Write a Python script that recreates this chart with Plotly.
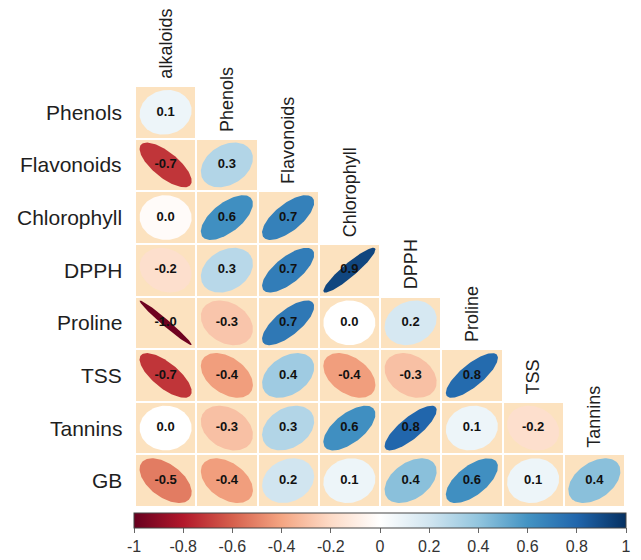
import numpy as np
import plotly.graph_objects as go

# ---------------- data ----------------
row_labels = ["Phenols", "Flavonoids", "Chlorophyll", "DPPH", "Proline", "TSS", "Tannins", "GB"]
col_labels = ["alkaloids", "Phenols", "Flavonoids", "Chlorophyll", "DPPH", "Proline", "TSS", "Tannins"]

# lower-triangular correlations (row i has i+1 values)
r_phenols = [0.08]
r_flavonoids = [-0.72, 0.30]
r_chlorophyll = [-0.02, 0.62, 0.68]
r_dpph = [-0.18, 0.28, 0.70, 0.92]
r_proline = [-0.98, -0.28, 0.72, 0.00, 0.18]
r_tss = [-0.72, -0.42, 0.36, -0.42, -0.30, 0.78]
r_tannins = [0.00, -0.30, 0.30, 0.62, 0.80, 0.08, -0.18]
r_gb = [-0.52, -0.42, 0.20, 0.08, 0.42, 0.62, 0.08, 0.42]
corr_rows = [r_phenols, r_flavonoids, r_chlorophyll, r_dpph, r_proline, r_tss, r_tannins, r_gb]

cbar_ticks = [-1, -0.8, -0.6, -0.4, -0.2, 0, 0.2, 0.4, 0.6, 0.8, 1]
cbar_ticktext = ["-1", "-0.8", "-0.6", "-0.4", "-0.2", "0", "0.2", "0.4", "0.6", "0.8", "1"]

# corrplot RdBu palette
pal = ["#67001F", "#B2182B", "#D6604D", "#F4A582", "#FDDBC7", "#FFFFFF",
       "#D1E5F0", "#92C5DE", "#4393C3", "#2166AC", "#053061"]
BG = "#FCE2BF"

# --------------------------------------
def hex2rgb(h):
    h = h.lstrip("#")
    return np.array([int(h[i:i + 2], 16) for i in (0, 2, 4)], dtype=float)

pal_rgb = [hex2rgb(c) for c in pal]
stops = np.linspace(-1, 1, len(pal))

def color_for(v):
    v = max(-1, min(1, v))
    k = min(int(np.searchsorted(stops, v, side="right")) - 1, len(pal) - 2)
    t = (v - stops[k]) / (stops[k + 1] - stops[k])
    c = pal_rgb[k] * (1 - t) + pal_rgb[k + 1] * t
    return "rgb(%d,%d,%d)" % tuple(np.round(c))

n = len(row_labels)
colorscale = [[i / (len(pal) - 1), c] for i, c in enumerate(pal)]

fig = go.Figure()

# background cells
z = [[1 if j <= i else None for j in range(n)] for i in range(n)]
fig.add_trace(go.Heatmap(z=z, x=list(range(n)), y=list(range(n)),
                         colorscale=[[0, BG], [1, BG]], showscale=False,
                         xgap=2, ygap=2, hoverinfo="skip"))

# ellipses
scale = 0.85
kk = np.linspace(0, 2 * np.pi, 120)
tx, ty, tt = [], [], []
for i, row in enumerate(corr_rows):
    for j, r in enumerate(row):
        a = np.arccos(r)
        ex = np.cos(kk + a / 2) / 2 * scale
        ey = np.cos(kk - a / 2) / 2 * scale
        fig.add_trace(go.Scatter(x=j + ex, y=i - ey, mode="lines", fill="toself",
                                 fillcolor=color_for(r), line=dict(width=0),
                                 hoverinfo="skip", showlegend=False))
        tx.append(j)
        ty.append(i)
        lab = f"{r:.1f}"
        if lab == "-0.0":
            lab = "0.0"
        tt.append(lab)

fig.add_trace(go.Scatter(x=tx, y=ty, text=tt, mode="text",
                         textfont=dict(family="Liberation Sans", size=13, color="#111111",
                                       weight="bold"),
                         hoverinfo="skip", showlegend=False))

# colorbar
fig.add_trace(go.Scatter(x=[None], y=[None], mode="markers", showlegend=False,
                         marker=dict(color=[0], cmin=-1, cmax=1, colorscale=colorscale,
                                     showscale=True,
                                     colorbar=dict(orientation="h", x=0.5, xanchor="center",
                                                   y=-0.0143, yanchor="top", len=1.004,
                                                   thickness=15, xpad=0, ypad=0,
                                                   outlinewidth=1, outlinecolor="#444444",
                                                   tickmode="array", tickvals=cbar_ticks,
                                                   ticktext=cbar_ticktext, ticks="outside",
                                                   ticklen=5, tickcolor="#666666",
                                                   tickfont=dict(family="Liberation Sans",
                                                                 size=16, color="#333333")))))

# row labels
for i, lab in enumerate(row_labels):
    fig.add_annotation(x=-0.5, y=i, text=lab, showarrow=False, xanchor="right",
                       yanchor="middle", xshift=-11,
                       font=dict(family="Liberation Sans", size=21, color="#1e1e1e"))
# column labels
for j, lab in enumerate(col_labels):
    fig.add_annotation(x=j, y=j - 0.5, text=lab, showarrow=False, textangle=-90,
                       xanchor="center", yanchor="bottom", yshift=5,
                       font=dict(family="Liberation Sans", size=18, color="#1e1e1e"))

fig.update_xaxes(range=[-0.5, n - 0.5], visible=False, fixedrange=True)
fig.update_yaxes(range=[n - 0.5, -0.5], visible=False, fixedrange=True)
fig.update_layout(width=633, height=552,
                  margin=dict(l=127, r=16, t=78, b=53, autoexpand=False),
                  plot_bgcolor="white", paper_bgcolor="white", showlegend=False)

fig.write_html("out.html")
